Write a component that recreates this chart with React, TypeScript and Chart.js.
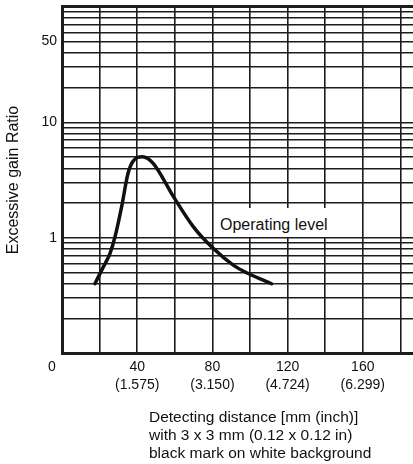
import React, { useEffect, useRef } from 'react';
import { Chart, registerables } from 'chart.js';

Chart.register(...registerables);

// ---- data ----
const distanceMm = [17.5, 22.0, 25.5, 28.2, 31.7, 35.0, 37.6, 42.8, 48.5, 59.2, 69.8, 80.4, 91.1, 99.1, 111.5];
const gainRatio = [0.40, 0.56, 0.73, 1.02, 1.85, 3.55, 4.55, 5.03, 4.41, 2.28, 1.25, 0.81, 0.58, 0.49, 0.40];

const xGridValues = [0, 20, 40, 60, 80, 100, 120, 140, 160, 180];
const xTickValues = [40, 80, 120, 160];
const xTickMm = ['40', '80', '120', '160'];
const xTickInch = ['(1.575)', '(3.150)', '(4.724)', '(6.299)'];
const originLabel = '0';

const yGridValues = [
  0.1, 0.2, 0.3, 0.4, 0.5, 0.6, 0.7, 0.8, 0.9,
  1, 2, 3, 4, 5, 6, 7, 8, 9,
  10, 20, 30, 40, 50, 60, 70, 80, 90, 100,
];
const yTickValues = [1, 10, 50];
const yTickLabels = ['1', '10', '50'];

const yTitle = 'Excessive gain Ratio';
const annotationText = 'Operating level';
const captionLines = [
  'Detecting distance [mm (inch)]',
  'with 3 x 3 mm (0.12 x 0.12 in)',
  'black mark on white background',
];

const FONT = '"Liberation Sans", Arial, Helvetica, sans-serif';
const INK = '#111';
const GRID = '#1c1c1c';

const near = (a: number, b: number) => Math.abs(a - b) < 1e-9 * Math.max(1, Math.abs(b));

const originPlugin = {
  id: 'originLabel',
  afterDraw(chart: any) {
    const xs = chart.scales.x;
    const ctx = chart.ctx;
    ctx.save();
    ctx.font = `14px ${FONT}`;
    ctx.fillStyle = INK;
    ctx.textAlign = 'center';
    ctx.textBaseline = 'middle';
    ctx.fillText(originLabel, xs.getPixelForValue(0) - 10, xs.top + 14);
    ctx.restore();
  },
};

export default function App() {
  const ref = useRef<HTMLCanvasElement>(null);

  useEffect(() => {
    const chart = new Chart(ref.current as HTMLCanvasElement, {
      type: 'line',
      data: {
        datasets: [
          {
            data: distanceMm.map((x, i) => ({ x, y: gainRatio[i] })),
            borderColor: INK,
            borderWidth: 3.5,
            pointRadius: 0,
            cubicInterpolationMode: 'monotone',
            borderCapStyle: 'round',
            borderJoinStyle: 'round',
            fill: false,
          },
        ],
      },
      options: {
        responsive: false,
        animation: false,
        events: [],
        layout: { padding: { top: 6.7, left: 0, right: 0, bottom: 0 } },
        plugins: { legend: { display: false }, tooltip: { enabled: false } },
        scales: {
          x: {
            type: 'linear',
            min: 0,
            max: 186.7,
            afterBuildTicks: (s: any) => {
              s.ticks = xGridValues.map((v) => ({ value: v }));
            },
            afterFit: (s: any) => {
              s.height = 464 - 353.3;
              s.paddingLeft = 0;
              s.paddingRight = 0;
            },
            grid: {
              color: GRID,
              lineWidth: (c: any) => (c.tick && c.tick.value === 0 ? 3 : 1.6),
              drawTicks: false,
            },
            border: { display: true, color: GRID, width: 3 },
            ticks: {
              autoSkip: false,
              maxRotation: 0,
              padding: 5,
              color: INK,
              font: { family: FONT, size: 14, lineHeight: 1.3 },
              callback: (v: any) => {
                const i = xTickValues.indexOf(Number(v));
                return i >= 0 ? [xTickMm[i], xTickInch[i]] : '';
              },
            },
          },
          y: {
            type: 'logarithmic',
            min: 0.1,
            max: 100,
            afterBuildTicks: (s: any) => {
              s.ticks = yGridValues.map((v) => ({ value: v }));
            },
            afterFit: (s: any) => {
              s.width = 62;
              s.paddingTop = 0;
              s.paddingBottom = 0;
            },
            grid: {
              color: GRID,
              lineWidth: (c: any) =>
                c.tick && (near(c.tick.value, 100) || near(c.tick.value, 0.1)) ? 3 : 1.4,
              drawTicks: false,
            },
            border: { display: true, color: GRID, width: 3 },
            title: {
              display: true,
              text: yTitle,
              color: INK,
              font: { family: FONT, size: 16 },
              padding: { top: 4, bottom: 0 },
            },
            ticks: {
              autoSkip: false,
              padding: 5,
              color: INK,
              font: { family: FONT, size: 14 },
              callback: (v: any) => {
                const i = yTickValues.findIndex((t) => near(t, Number(v)));
                return i >= 0 ? yTickLabels[i] : '';
              },
            },
          },
        },
      },
      plugins: [originPlugin],
    } as any);
    return () => chart.destroy();
  }, []);

  return (
    <div style={{ position: 'fixed', left: 0, top: 0, width: 413, height: 464, background: '#fff', overflow: 'hidden' }}>
      <canvas ref={ref} width={413} height={464} style={{ display: 'block', width: 413, height: 464 }} />
      <div
        style={{
          position: 'absolute',
          left: 216,
          top: 208,
          padding: '7px 4px 3px 4px',
          background: '#fff',
          color: INK,
          font: `16px ${FONT}`,
          lineHeight: '19px',
          whiteSpace: 'nowrap',
        }}
      >
        {annotationText}
      </div>
      <div
        style={{
          position: 'absolute',
          left: 149,
          top: 408,
          color: INK,
          font: `15.5px ${FONT}`,
          lineHeight: '18px',
          whiteSpace: 'nowrap',
        }}
      >
        {captionLines.map((l) => (
          <div key={l}>{l}</div>
        ))}
      </div>
    </div>
  );
}
